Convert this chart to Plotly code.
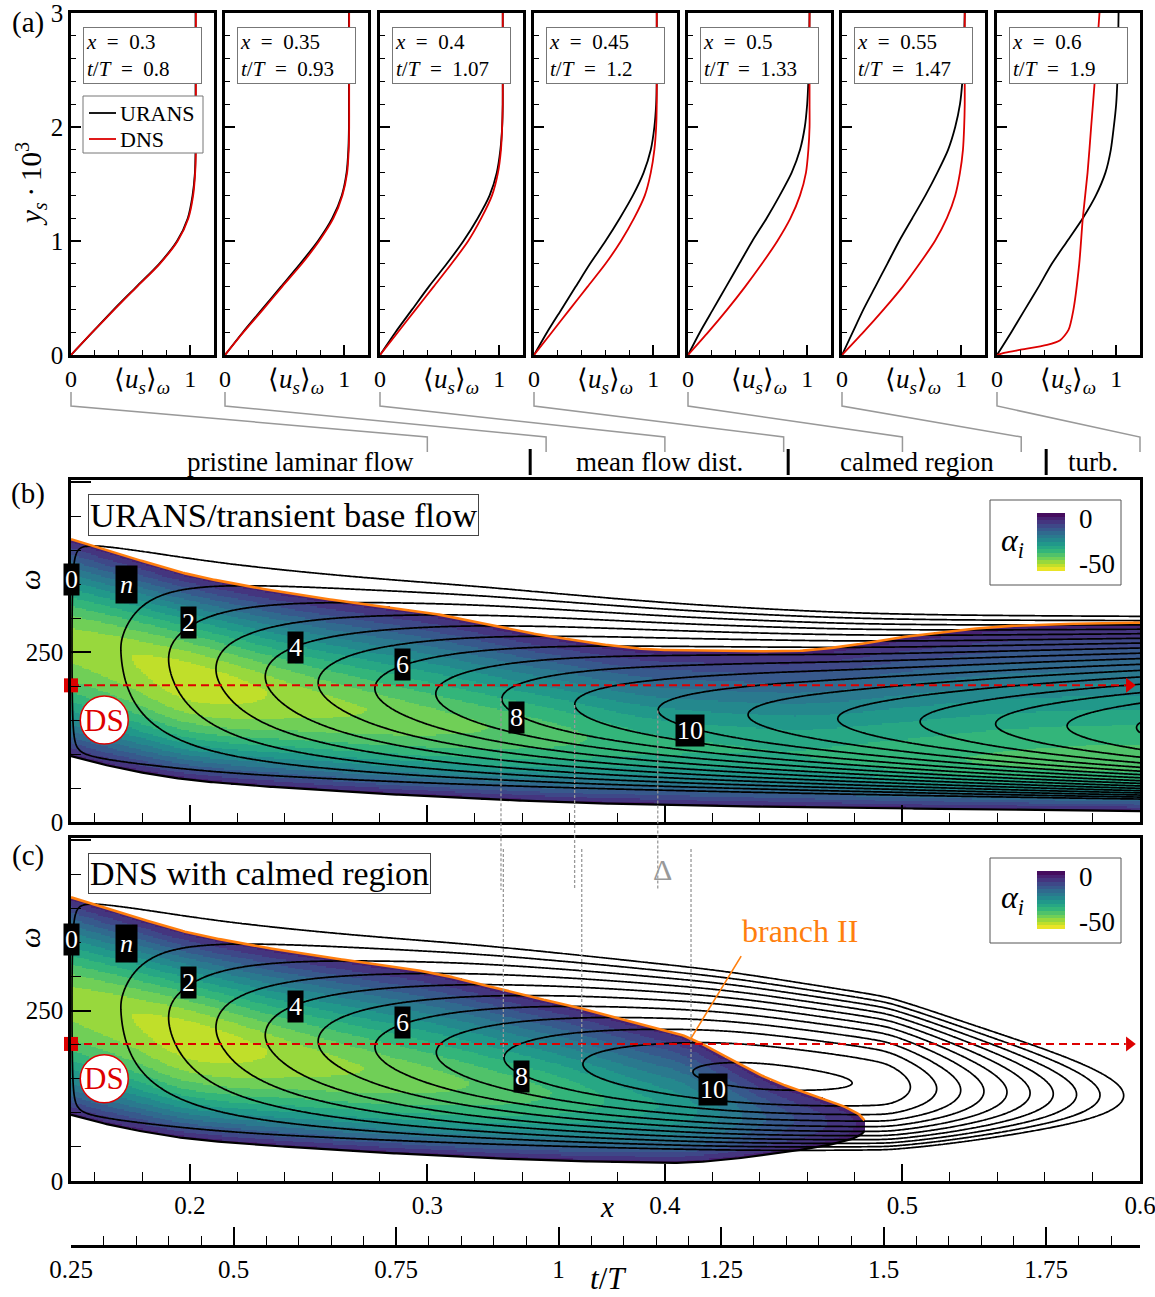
import numpy as np
import plotly.graph_objects as go
from plotly.colors import sample_colorscale

W, H = 1155, 1297
FONT = "Liberation Serif"


def fx(p):
    return p / W


def fy(p):
    return 1 - p / H


# ------------------------------------------------------------------ data (a)
station_x = ["0.3", "0.35", "0.4", "0.45", "0.5", "0.55", "0.6"]
station_tT = ["0.8", "0.93", "1.07", "1.2", "1.33", "1.47", "1.9"]
station_xval = [0.3, 0.35, 0.4, 0.45, 0.5, 0.55, 0.6]

ys_profile = [0, 0.2, 0.4, 0.6, 0.8, 1.0, 1.2, 1.4, 1.6, 1.8, 2.0, 2.2, 2.4, 2.6, 3.0]
u_urans_030 = [0, 0.18, 0.36, 0.55, 0.74, 0.89, 0.98, 1.02, 1.04, 1.045, 1.045, 1.045, 1.045, 1.045, 1.045]
u_dns_030 = [0, 0.18, 0.365, 0.555, 0.745, 0.895, 0.985, 1.025, 1.042, 1.048, 1.048, 1.048, 1.048, 1.048, 1.048]
u_urans_035 = [0, 0.15, 0.31, 0.47, 0.63, 0.78, 0.90, 0.98, 1.02, 1.035, 1.04, 1.04, 1.04, 1.04, 1.04]
u_dns_035 = [0, 0.155, 0.32, 0.48, 0.645, 0.79, 0.91, 0.985, 1.025, 1.038, 1.042, 1.042, 1.042, 1.042, 1.042]
u_urans_040 = [0, 0.13, 0.27, 0.41, 0.56, 0.70, 0.82, 0.92, 0.98, 1.01, 1.025, 1.03, 1.03, 1.03, 1.03]
u_dns_040 = [0, 0.15, 0.30, 0.45, 0.60, 0.74, 0.85, 0.94, 0.99, 1.015, 1.025, 1.03, 1.03, 1.03, 1.03]
u_urans_045 = [0, 0.11, 0.23, 0.35, 0.47, 0.60, 0.72, 0.83, 0.92, 0.98, 1.01, 1.025, 1.03, 1.03, 1.03]
u_dns_045 = [0, 0.15, 0.30, 0.45, 0.60, 0.73, 0.84, 0.93, 0.98, 1.01, 1.025, 1.03, 1.03, 1.03, 1.03]
u_urans_050 = [0, 0.10, 0.21, 0.32, 0.43, 0.54, 0.66, 0.77, 0.87, 0.94, 0.98, 1.0, 1.01, 1.015, 1.02]
u_dns_050 = [0, 0.17, 0.33, 0.48, 0.62, 0.75, 0.86, 0.94, 0.99, 1.01, 1.02, 1.02, 1.02, 1.02, 1.02]
u_urans_055 = [0, 0.09, 0.18, 0.28, 0.38, 0.48, 0.59, 0.70, 0.80, 0.89, 0.95, 0.99, 1.01, 1.02, 1.03]
u_dns_055 = [0, 0.18, 0.35, 0.51, 0.65, 0.78, 0.88, 0.95, 0.99, 1.015, 1.025, 1.03, 1.03, 1.03, 1.03]
u_urans_060 = [0, 0.12, 0.235, 0.35, 0.46, 0.59, 0.72, 0.83, 0.91, 0.955, 0.98, 1.0, 1.01, 1.015, 1.02]
ys_dns_060 = [0, 0.02, 0.044, 0.088, 0.13, 0.22, 0.39, 0.8, 1.2, 1.6, 2.0, 2.4, 3.0]
u_dns_060 = [0, 0.07, 0.19, 0.42, 0.53, 0.60, 0.64, 0.69, 0.72, 0.76, 0.79, 0.82, 0.86]

urans_profiles = [u_urans_030, u_urans_035, u_urans_040, u_urans_045, u_urans_050, u_urans_055, u_urans_060]
dns_profiles = [u_dns_030, u_dns_035, u_dns_040, u_dns_045, u_dns_050, u_dns_055, u_dns_060]
dns_ys = [ys_profile] * 6 + [ys_dns_060]

region_names = ["pristine laminar flow", "mean flow dist.", "calmed region", "turb."]
region_bounds = [0.15, 0.3433, 0.4519, 0.5605, 0.6]

# ------------------------------------------------------------------ data (b,c)
x_nodes = [0.15, 0.175, 0.2, 0.25, 0.3, 0.35, 0.4, 0.45, 0.475, 0.4875, 0.5, 0.55, 0.6]
omega_upper_urans = [416, 389, 364, 332, 308, 274, 253, 251, 258, 265, 272, 289, 293]
omega_lower_urans = [97, 76, 62, 48, 38, 30, 25, 22, 21, 20.5, 20, 18, 16]
omega_ridge_urans = [270, 245, 215, 180, 152, 132, 115, 104, 99, 97, 95, 92, 90]
alpha_ridge_urans = [-48, -50, -53, -48, -44, -40, -35, -34, -35, -35.8, -36.5, -39, -40]
calming_slope_dns = [0, 0, 0, 0, 0.2, 1.3, 4.8, 14.6, 17.1, 21, 25, 10, 0]
calming_offset_dns = [0, 0, 0, 0, 0, 0, 0, 8.5, 15.4, 19, 75, 125, 135]
omega_DS = 201
N_levels_marked = [8, 9, 10]
tT_range = [0.25, 1.8946]
tT_ticks = [0.25, 0.5, 0.75, 1.0, 1.25, 1.5, 1.75]
tT_ticktext = ["0.25", "0.5", "0.75", "1", "1.25", "1.5", "1.75"]
x_ticks = [0.2, 0.3, 0.4, 0.5, 0.6]
x_range = [0.15, 0.6]
omega_range = [0, 503]


def pchip(xk, yk, xq):
    xk = np.asarray(xk, float)
    yk = np.asarray(yk, float)
    h = np.diff(xk)
    dl = np.diff(yk) / h
    n = len(xk)
    d = np.zeros(n)
    for k in range(1, n - 1):
        if dl[k - 1] * dl[k] > 0:
            w1 = 2 * h[k] + h[k - 1]
            w2 = h[k] + 2 * h[k - 1]
            d[k] = (w1 + w2) / (w1 / dl[k - 1] + w2 / dl[k])

    def ends(h0, h1, d0, d1):
        s = ((2 * h0 + h1) * d0 - h0 * d1) / (h0 + h1)
        if np.sign(s) != np.sign(d0):
            s = 0.0
        elif np.sign(d0) != np.sign(d1) and abs(s) > abs(3 * d0):
            s = 3 * d0
        return s

    d[0] = ends(h[0], h[1], dl[0], dl[1])
    d[-1] = ends(h[-1], h[-2], dl[-1], dl[-2])
    idx = np.clip(np.searchsorted(xk, xq) - 1, 0, n - 2)
    t = (xq - xk[idx]) / h[idx]
    h00 = 2 * t**3 - 3 * t**2 + 1
    h10 = t**3 - 2 * t**2 + t
    h01 = -2 * t**3 + 3 * t**2
    h11 = t**3 - t**2
    return h00 * yk[idx] + h10 * h[idx] * d[idx] + h01 * yk[idx + 1] + h11 * h[idx] * d[idx + 1]


xg = np.linspace(x_range[0], x_range[1], 451)
wg = np.arange(0, 504.1, 2.0)
A = pchip(x_nodes, alpha_ridge_urans, xg)
WP = pchip(x_nodes, omega_ridge_urans, xg)
WU = pchip(x_nodes, omega_upper_urans, xg)
WL = pchip(x_nodes, omega_lower_urans, xg)
C1 = np.maximum(pchip(x_nodes, calming_slope_dns, xg), 0)
C0 = np.maximum(pchip(x_nodes, calming_offset_dns, xg), 0)
Wm = wg[:, None]
dd = Wm - WP[None, :]
shape_up = 1 - np.abs(dd / (WU - WP)[None, :]) ** 1.4
shape_lo = 1 - (dd / (WP - WL)[None, :]) ** 2
alpha_b = A[None, :] * np.where(dd >= 0, shape_up, shape_lo)
alpha_c = alpha_b + C1[None, :] * Wm / 100.0 + C0[None, :]


def cumint(f, x):
    out = np.zeros_like(f)
    out[:, 1:] = np.cumsum(0.5 * (f[:, 1:] + f[:, :-1]) * np.diff(x)[None, :], axis=1)
    return out


N_b = -cumint(alpha_b, xg)
N_c = -cumint(alpha_c, xg)


def branches(al):
    xu, yu, xl, yl = [], [], [], []
    for j in range(al.shape[1]):
        col = al[:, j]
        neg = np.where(col < 0)[0]
        if len(neg) == 0:
            continue
        iu = neg.max()
        if iu < len(col) - 1:
            w = wg[iu] + (0 - col[iu]) / (col[iu + 1] - col[iu]) * (wg[iu + 1] - wg[iu])
        else:
            w = wg[iu]
        xu.append(xg[j]); yu.append(w)
        il = neg.min()
        if il > 0:
            w = wg[il - 1] + (0 - col[il - 1]) / (col[il] - col[il - 1]) * (wg[il] - wg[il - 1])
        else:
            w = wg[il]
        xl.append(xg[j]); yl.append(w)
    return xu, yu, xl, yl


def vertex(N, level):
    colmax = N.max(axis=0)
    j = int(np.argmax(colmax >= level))
    i = int(np.argmax(N[:, j]))
    return float(xg[j]), float(wg[i])


# ------------------------------------------------------------------ figure
fig = go.Figure()
a_left = [71, 225, 380, 534, 688, 842, 997]
a_w = 143
layout = dict(
    width=W, height=H, margin=dict(l=0, r=0, t=0, b=0, autoexpand=False),
    paper_bgcolor="white", plot_bgcolor="white",
    font=dict(family=FONT, color="black", size=24),
    showlegend=False,
)
annotations = []
shapes = []


def ann(x, y, text, size, color="black", xref="paper", yref="paper", **kw):
    d = dict(xref=xref, yref=yref, x=x, y=y, text=text, showarrow=False, xanchor="center",
             yanchor="middle", font=dict(size=size, color=color, family=FONT))
    d.update(kw)
    annotations.append(d)


axcommon = dict(showline=True, mirror=True, linecolor="black", linewidth=2.5, automargin=False,
                showgrid=False, zeroline=False, ticks="inside", tickcolor="black",
                ticklabeloverflow="allow")

for i in range(7):
    k = "" if i == 0 else str(i + 1)
    L = a_left[i]
    layout["xaxis" + k] = dict(axcommon, domain=[fx(L), fx(L + a_w)], range=[0, 1.2], anchor="y" + k,
                               tickvals=[0, 1], ticklen=10, tickwidth=2,
                               minor=dict(ticks="inside", tickmode="linear", tick0=0, dtick=0.2,
                                          ticklen=5, tickwidth=1, tickcolor="black"),
                               tickfont=dict(size=24))
    layout["yaxis" + k] = dict(axcommon, domain=[fy(355), fy(13)], range=[0, 3], anchor="x" + k,
                               tickvals=[0, 1, 2, 3], ticklen=10, tickwidth=2,
                               minor=dict(ticks="inside", tickmode="linear", tick0=0, dtick=0.2,
                                          ticklen=5, tickwidth=1, tickcolor="black"),
                               showticklabels=(i == 0), tickfont=dict(size=25))
    fig.add_trace(go.Scatter(x=urans_profiles[i], y=ys_profile, xaxis="x" + k, yaxis="y" + k, mode="lines",
                             line=dict(color="black", width=1.8, shape="spline", smoothing=0.7),
                             name="URANS", hoverinfo="skip"))
    fig.add_trace(go.Scatter(x=dns_profiles[i], y=dns_ys[i], xaxis="x" + k, yaxis="y" + k, mode="lines",
                             line=dict(color="#dd0000", width=1.8, shape="spline", smoothing=0.7),
                             name="DNS", hoverinfo="skip"))
    ann(fx(L + 12), fy(27), "<i>x</i>\u2002=\u2002%s<br><i>t</i>/<i>T</i>\u2002=\u2002%s" % (station_x[i], station_tT[i]),
        21, xanchor="left", yanchor="top", align="left", bgcolor="white", bordercolor="#777",
        borderwidth=1, borderpad=2, width=113)
    ann(fx(L + 71), fy(381), "⟨<i>u<sub>s</sub></i>⟩<sub><i>ω</i></sub>", 27)

# manual legend (panel a, first subplot)
shapes.append(dict(type="rect", xref="paper", yref="paper", x0=fx(83), x1=fx(203), y0=fy(153), y1=fy(96),
                   fillcolor="white", line=dict(color="#777", width=1), layer="above"))
for nm, col, yy in (("URANS", "black", 113), ("DNS", "#dd0000", 139)):
    shapes.append(dict(type="line", xref="paper", yref="paper", x0=fx(89), x1=fx(116), y0=fy(yy), y1=fy(yy),
                       line=dict(color=col, width=1.8), layer="above"))
    ann(fx(118), fy(yy), nm, 22, xanchor="left")

# main axes (b) and (c)
MX0, MX1 = 71, 1140


def main_px(x):
    return MX0 + (x - x_range[0]) / (x_range[1] - x_range[0]) * (MX1 - MX0)


panels = {"b": dict(ax="8", top=480, bot=822), "c": dict(ax="9", top=838, bot=1181)}
for key, p in panels.items():
    k = p["ax"]
    layout["xaxis" + k] = dict(axcommon, domain=[fx(MX0), fx(MX1)], range=x_range, anchor="y" + k,
                               tickvals=x_ticks, ticktext=[("%.1f" % v) for v in x_ticks],
                               ticklen=17, tickwidth=2.2,
                               minor=dict(ticks="inside", tickmode="linear", tick0=0.0, dtick=0.02,
                                          ticklen=9, tickwidth=1.2, tickcolor="black"),
                               showticklabels=(key == "c"), tickfont=dict(size=25))
    layout["yaxis" + k] = dict(axcommon, domain=[fy(p["bot"]), fy(p["top"])], range=omega_range, anchor="x" + k,
                               tickvals=[0, 250, 500], ticktext=["0", "250", ""], ticklen=20, tickwidth=2.2,
                               minor=dict(ticks="inside", tickmode="linear", tick0=0, dtick=50,
                                          ticklen=10, tickwidth=1.2, tickcolor="black"),
                               tickfont=dict(size=25))

# t/T axis
layout["xaxis10"] = dict(domain=[fx(MX0), fx(MX1)], range=tT_range, anchor="y10", showline=True, automargin=False,
                         linecolor="black", linewidth=2.5, showgrid=False, zeroline=False, mirror=False,
                         ticks="inside", tickvals=tT_ticks, ticktext=tT_ticktext, ticklen=18, tickwidth=2.2,
                         tickcolor="black", ticklabeloverflow="allow",
                         minor=dict(ticks="inside", tickmode="linear", tick0=0.25, dtick=0.05,
                                    ticklen=9, tickwidth=1.2, tickcolor="black"),
                         tickfont=dict(size=25))
layout["yaxis10"] = dict(domain=[fy(1245), fy(1225)], range=[0, 1], anchor="x10", visible=False,
                         fixedrange=True, automargin=False)
fig.add_trace(go.Scatter(x=tT_range, y=[0.5, 0.5], xaxis="x10", yaxis="y10", mode="markers",
                         marker=dict(opacity=0), hoverinfo="skip"))

nb = 16
zmin, zmax = -58.0, 6.0
cscale = []
for b in range(nb):
    c = sample_colorscale("Viridis", [1 - (b + 0.5) / nb])[0]
    cscale += [[b / nb, c], [(b + 1) / nb, c]]

for key, al, N in (("b", alpha_b, N_b), ("c", alpha_c, N_c)):
    p = panels[key]
    k = p["ax"]
    zfill = np.where(al < 0, al, np.nan).astype(np.float32)
    cb_y = (p["top"] + 62)
    fig.add_trace(go.Heatmap(x=xg.astype(np.float32), y=wg.astype(np.float32), z=zfill, xaxis="x" + k, yaxis="y" + k,
                             colorscale=cscale, zmin=zmin, zmax=zmax, zsmooth=False, hoverinfo="skip",
                             colorbar=dict(x=fx(1037), xanchor="left", y=fy(cb_y), yanchor="middle",
                                           len=58, lenmode="pixels", thickness=28, thicknessmode="pixels",
                                           tickvals=[0, -50], ticktext=["0", "-50"], ticks="outside",
                                           ticklen=9, tickcolor="rgba(0,0,0,0)",
                                           tickfont=dict(size=27, family=FONT), outlinewidth=0, xpad=0, ypad=0)))
    xu, yu, xl, yl = branches(al)
    fig.add_trace(go.Scatter(x=xl, y=yl, xaxis="x" + k, yaxis="y" + k, mode="lines",
                             line=dict(color="black", width=2.2), hoverinfo="skip"))
    fig.add_trace(go.Contour(x=xg.astype(np.float32), y=wg.astype(np.float32), z=N.astype(np.float32),
                             xaxis="x" + k, yaxis="y" + k,
                             contours=dict(start=0.02, end=20.02, size=1, coloring="lines"),
                             colorscale=[[0, "black"], [1, "black"]], line=dict(width=1.7),
                             showscale=False, hoverinfo="skip"))
    fig.add_trace(go.Scatter(x=xu, y=yu, xaxis="x" + k, yaxis="y" + k, mode="lines",
                             line=dict(color="#ff7f0e", width=2.6), hoverinfo="skip"))
    # DS line
    fig.add_trace(go.Scatter(x=[x_range[0], x_range[1] - 0.006], y=[omega_DS, omega_DS], xaxis="x" + k, yaxis="y" + k,
                             mode="lines", line=dict(color="#dd0000", width=2, dash="8px,5px"), hoverinfo="skip"))
    fig.add_trace(go.Scatter(x=[x_range[0]], y=[omega_DS], xaxis="x" + k, yaxis="y" + k, mode="markers",
                             marker=dict(symbol="square", size=14, color="#dd0000"), cliponaxis=False,
                             hoverinfo="skip"))
    fig.add_trace(go.Scatter(x=[x_range[1] - 0.0045], y=[omega_DS], xaxis="x" + k, yaxis="y" + k, mode="markers",
                             marker=dict(symbol="triangle-right", size=13, color="#dd0000"), cliponaxis=False,
                             hoverinfo="skip"))
    # DS circle
    shapes.append(dict(type="circle", xref="x" + k, yref="y" + k, x0=0.164 - 0.0101, x1=0.164 + 0.0101,
                       y0=150 - 35.3, y1=150 + 35.3, fillcolor="white", line=dict(color="#dd0000", width=1.5),
                       layer="above"))
    ann(0.164, 150, "DS", 31, color="#dd0000", xref="x" + k, yref="y" + k)
    # colorbar box
    shapes.append(dict(type="rect", xref="paper", yref="paper", x0=fx(990), x1=fx(1121), y0=fy(p["top"] + 105),
                       y1=fy(p["top"] + 20), fillcolor="white", line=dict(color="#555", width=1), layer="above"))
    ann(fx(1012), fy(p["top"] + 62), "<i>α<sub>i</sub></i>", 32)
    ann(fx(30), fy(p["top"] + 100), "<i>ω</i>", 29, textangle=-90)

# N-factor labels
labels_b = [("0", 0.15, 356), ("<i>n</i>", 0.1732, 350), ("2", 0.1993, 293), ("4", 0.2447, 256),
            ("6", 0.2894, 232), ("8", 0.3374, 153), ("10", 0.4106, 135)]
labels_c = [("0", 0.15, 354), ("<i>n</i>", 0.1732, 348), ("2", 0.1993, 291), ("4", 0.2447, 256),
            ("6", 0.2894, 232), ("8", 0.3395, 153), ("10", 0.4203, 134)]
for k, labs in (("8", labels_b), ("9", labels_c)):
    for t, xx, yy in labs:
        pad = 4 if t.startswith("<i>") else 1
        ann(xx, yy, t, 26, color="white", xref="x" + k, yref="y" + k, bgcolor="black", borderpad=pad)

# panel titles
ann(fx(88), fy(515), "URANS/transient base flow", 34.5, xanchor="left", bgcolor="white", bordercolor="#444",
    borderwidth=1, borderpad=1)
ann(fx(88), fy(874), "DNS with calmed region", 34, xanchor="left", bgcolor="white", bordercolor="#444",
    borderwidth=1, borderpad=1)
for t, yy in (("(a)", 22), ("(b)", 494), ("(c)", 855)):
    ann(fx(28), fy(yy), t, 29)
ann(fx(31), fy(184), "<i>y<sub>s</sub></i>\u2009·\u200910<sup>3</sup>", 29, textangle=-90)
ann(fx(607), fy(1207), "<i>x</i>", 29)
ann(fx(608), fy(1278), "<i>t</i>/<i>T</i>", 31)

# region row
for j, name in enumerate(region_names):
    xc = 0.5 * (region_bounds[j] + region_bounds[j + 1])
    ann(xc, fy(462), name, 27, xref="x8")
for xb in region_bounds[1:-1]:
    shapes.append(dict(type="line", xref="x8", yref="paper", x0=xb, x1=xb, y0=fy(449), y1=fy(475),
                       line=dict(color="black", width=3)))
for i in range(7):
    L = a_left[i]
    X = main_px(station_xval[i])
    path = "M %f,%f L %f,%f L %f,%f L %f,%f" % (fx(L), fy(392), fx(L), fy(406), fx(X), fy(437), fx(X), fy(452))
    shapes.append(dict(type="path", xref="paper", yref="paper", path=path, line=dict(color="#999", width=1.5)))

# dotted connectors between N-factor vertices
yb0, yb1 = fy(822), fy(480)
for lev in N_levels_marked:
    xv, wv = vertex(N_b, lev)
    shapes.append(dict(type="line", xref="x8", yref="paper", x0=xv, x1=xv,
                       y0=yb0 + wv / omega_range[1] * (yb1 - yb0), y1=fy(890),
                       line=dict(color="#999", width=1.3, dash="3px,2px")))
    xv, wv = vertex(N_c, lev)
    shapes.append(dict(type="line", xref="x9", yref="y9", x0=xv, x1=xv, y0=487, y1=wv,
                       line=dict(color="#999", width=1.3, dash="3px,2px")))
ann(0.399, 457, "Δ", 30, color="#999", xref="x9", yref="y9")
# branch II
annotations.append(dict(xref="x9", yref="y9", x=0.4106, y=207, ax=0.4325, ay=332, axref="x9", ayref="y9",
                        text="", showarrow=True, arrowhead=0, arrowwidth=1.6, arrowcolor="#ff7f0e"))
ann(0.457, 366, "branch II", 32, color="#ff7f0e", xref="x9", yref="y9")

layout["annotations"] = annotations
layout["shapes"] = shapes
fig.update_layout(**layout)
fig.write_html("out.html", post_script="document.body.style.margin='0px';document.body.style.overflow='hidden';")
